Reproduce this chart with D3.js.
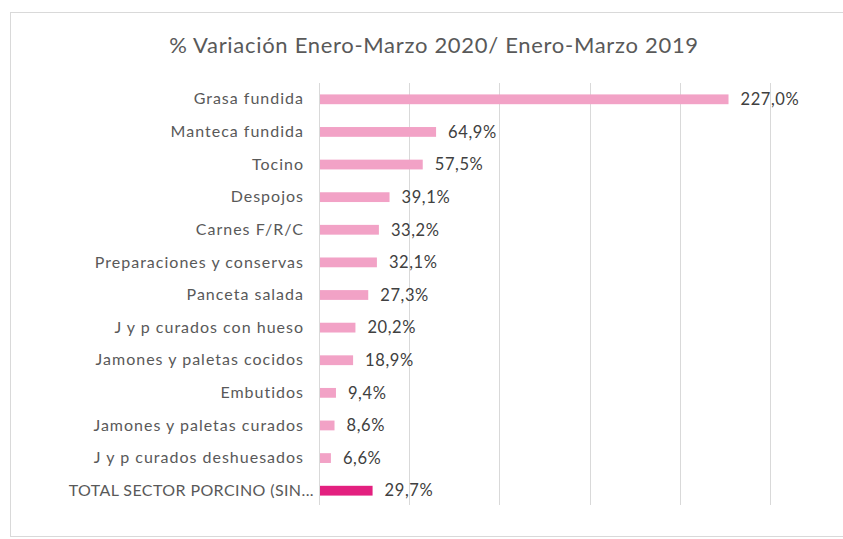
<!DOCTYPE html>
<html>
<head>
<meta charset="utf-8">
<script src="https://cdn.jsdelivr.net/npm/d3@7"></script>
<style>
  html, body { margin: 0; padding: 0; background: #fff; }
  svg { display: block; }
</style>
</head>
<body>
<script>
const title = "% Variación Enero-Marzo 2020/ Enero-Marzo 2019";
const categories = [
  "Grasa fundida",
  "Manteca fundida",
  "Tocino",
  "Despojos",
  "Carnes F/R/C",
  "Preparaciones y conservas",
  "Panceta salada",
  "J y p curados con hueso",
  "Jamones y paletas cocidos",
  "Embutidos",
  "Jamones y paletas curados",
  "J y p curados deshuesados",
  "TOTAL SECTOR PORCINO (SIN..."
];
const values = [227.0, 64.9, 57.5, 39.1, 33.2, 32.1, 27.3, 20.2, 18.9, 9.4, 8.6, 6.6, 29.7];
const gridTicks = [0, 50, 100, 150, 200, 250];

const W = 843, H = 539;
const svg = d3.select("body").append("svg").attr("width", W).attr("height", H);
const font = "Lato, 'Open Sans', sans-serif";

// frame
svg.append("rect").attr("x", 10.5).attr("y", 12.5).attr("width", 850).attr("height", 524)
  .attr("fill", "none").attr("stroke", "#d9d9d9").attr("stroke-width", 1);

const x = d3.scaleLinear().domain([0, 250]).range([319, 770]);
const y = d3.scaleBand().domain(categories).range([83, 507]).paddingInner(0.7).paddingOuter(0.35);

// gridlines
svg.append("g").selectAll("line").data(gridTicks).join("line")
  .attr("x1", d => Math.round(x(d)) + 0.5).attr("x2", d => Math.round(x(d)) + 0.5)
  .attr("y1", 83).attr("y2", 505)
  .attr("stroke", "#d9d9d9").attr("stroke-width", 1);

// title
svg.append("text").attr("x", 434).attr("y", 53).attr("text-anchor", "middle")
  .attr("font-family", font).attr("font-size", 22).attr("letter-spacing", 0.7)
  .attr("fill", "#595959").text(title);

// bars
svg.append("g").selectAll("rect").data(values).join("rect")
  .attr("x", x(0) + 1)
  .attr("y", (d, i) => y(categories[i]))
  .attr("width", d => x(d) - x(0) - 1)
  .attr("height", y.bandwidth())
  .attr("fill", (d, i) => i === categories.length - 1 ? "#e3207f" : "#f2a2c6");

// category labels
const yAxis = d3.axisLeft(y).tickSize(0).tickPadding(0);
const ga = svg.append("g").attr("transform", "translate(304,0)").call(yAxis);
ga.select(".domain").remove();
ga.selectAll("text").attr("font-family", font).attr("font-size", 16).attr("letter-spacing", 1)
  .attr("fill", "#595959");
ga.selectAll(".tick").filter(d => d === categories[categories.length - 1]).select("text")
  .attr("letter-spacing", 0.4).attr("x", 10);

// value labels
svg.append("g").selectAll("text").data(values).join("text")
  .attr("x", d => x(d) + 12)
  .attr("y", (d, i) => y(categories[i]) + y.bandwidth() / 2)
  .attr("dy", "0.35em")
  .attr("font-family", font).attr("font-size", 16.5).attr("letter-spacing", 0.6)
  .attr("fill", "#404040")
  .text(d => d.toFixed(1).replace(".", ",") + "%");
</script>
</body>
</html>
